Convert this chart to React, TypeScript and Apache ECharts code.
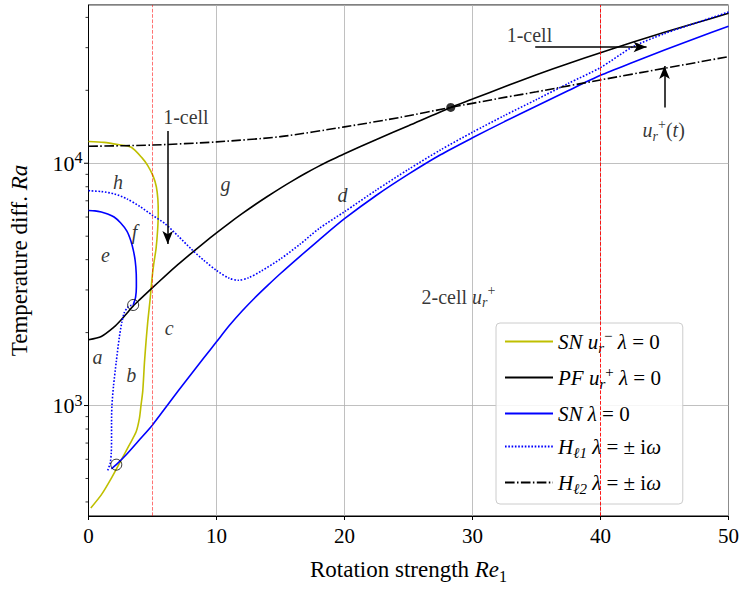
import React, { useEffect, useRef } from "react";
import * as echarts from "echarts";

const F = "Liberation Serif";

// ---------- data (Re1, Ra) ----------
const snMinusCurve: [number, number][] = [
  [0.18, 378], [1.01, 429], [1.79, 502], [2.56, 597], [3.2, 689], [3.73, 781],
  [3.98, 887], [4.1, 1000], [4.24, 1150], [4.37, 1500], [4.5, 1850], [4.63, 2220],
  [4.8, 2700], [4.95, 3300], [5.1, 3850], [5.28, 4450], [5.4, 5300], [5.45, 6200],
  [5.42, 7100], [5.3, 8000], [5.05, 8850], [4.63, 9780], [4.2, 10500], [3.34, 11640],
  [2.3, 11950], [1.2, 12200], [0, 12300],
];

const pfPlusCurve: [number, number][] = [
  [0, 1870], [1, 1928], [2, 2110], [2.5, 2244], [3, 2405], [3.5, 2579], [4, 2735],
  [4.5, 2897], [5, 3067], [6, 3430], [7, 3822], [8, 4238], [9, 4686], [10, 5161],
  [11, 5664], [12, 6191], [13, 6740], [14, 7307], [15, 7898], [16, 8502], [17, 9114],
  [18, 9729], [19, 10337], [20, 10952], [22.5, 12542], [25, 14295], [28.3, 17000],
  [30, 18400], [32.5, 20700], [35, 23200], [37.5, 25800], [40, 28600], [42.5, 31600],
  [45, 34700], [47.5, 38000], [50, 41600],
];

const snUpperBranch: [number, number][] = [
  [0, 6380], [0.5, 6360], [1, 6290], [1.5, 6170], [2, 6000], [2.5, 5680], [3, 5250],
  [3.3, 4800], [3.5, 4380], [3.65, 3950], [3.73, 3500], [3.74, 3100], [3.68, 2800],
  [3.49, 2600],
];

const snLowerBranch: [number, number][] = [
  [1.79, 548], [2.17, 570], [3, 631], [4, 724], [5, 832], [6, 977], [7, 1148],
  [8, 1343], [9, 1570], [10, 1832], [11, 2138], [12, 2455], [13, 2786], [14, 3133],
  [15, 3508], [16.5, 4121], [18, 4819], [20, 5902], [22.5, 7379], [25, 9016],
  [27.5, 10839], [30, 12735], [32.5, 14859], [35, 17219], [37.5, 19953], [40, 23067],
  [42.5, 26061], [45, 29309], [47.5, 32885], [50, 36813],
];

const hopf1UpperBranch: [number, number][] = [
  [0, 7709], [1, 7640], [2, 7480], [3, 7130], [4, 6640], [5, 6100], [6, 5620],
  [7, 5010], [8, 4440], [9, 3980], [10, 3610], [11, 3350], [11.7, 3290], [12.5, 3365],
  [13.5, 3590], [15, 4030], [16.5, 4620], [18, 5370], [20, 6310], [22.5, 7760],
  [25, 9440], [27.5, 11350], [30, 13430], [32.5, 15740], [35, 18320], [37.5, 21380],
  [40, 24830], [42.5, 30200], [45, 34280], [47.5, 38020], [50, 42070],
];

const hopf1LowerBranch: [number, number][] = [
  [1.5, 540], [1.7, 580], [1.78, 640], [1.8, 720], [1.8, 850], [1.83, 1000],
  [1.95, 1200], [2.17, 1517], [2.4, 1900], [2.6, 2200], [2.8, 2420], [3.05, 2540],
  [3.3, 2590], [3.49, 2600],
];

const hopf2Curve: [number, number][] = [
  [0, 11750], [5, 11890], [10, 12250], [15, 12880], [20, 14130], [24.3, 15450],
  [28.3, 17000], [32.5, 18700], [35, 19720], [40, 22080], [45, 24660], [50, 27540],
];

const openPoints: [number, number][] = [[3.49, 2600], [2.17, 570]];
const filledPoints: [number, number][] = [[28.3, 17000]];
const refLinesX = [5, 40];

const yMajorTicks = [1000, 10000];
const yMinorTicks = [
  400, 500, 600, 700, 800, 900,
  2000, 3000, 4000, 5000, 6000, 7000, 8000, 9000,
  20000, 30000, 40000,
];

const annotations: [number, number, string][] = [
  [7.61, 15460, "{rm|1-cell}"],
  [34.45, 33900, "{rm|1-cell}"],
  [44.94, 13700, "{it|u}{sub|r}{sup|+}{rm|(}{it|t}{rm|)}"],
  [2.3, 8400, "{it|h}"],
  [10.71, 8220, "{it|g}"],
  [19.85, 7410, "{it|d}"],
  [1.32, 4200, "{it|e}"],
  [3.59, 5200, "{it|f}"],
  [0.7, 1582, "{it|a}"],
  [3.34, 1334, "{it|b}"],
  [6.31, 2094, "{it|c}"],
  [28.9, 2818, "{rm|2-cell }{it|u}{sub|r}{sup|+}"],
];

const arrows: [[number, number], [number, number]][] = [
  [[6.19, 13600], [6.19, 4645]],
  [[34.9, 30200], [43.6, 30200]],
  [[45.0, 17000], [45.0, 25200]],
];

const legendKeys = ["snMinus", "pfPlus", "sn", "hopf1", "hopf2"];
const legendLabels = [
  "{it|SN}{rm| }{it|u}{sub|r}{sup|−}{rm| }{it|λ}{rm| = 0}",
  "{it|PF}{rm| }{it|u}{sub|r}{sup|+}{rm| }{it|λ}{rm| = 0}",
  "{it|SN}{rm| }{it|λ}{rm| = 0}{sup| }",
  "{it|H}{sub|ℓ1}{rm| }{it|λ}{rm| = ± i}{it|ω}{sup| }",
  "{it|H}{sub|ℓ2}{rm| }{it|λ}{rm| = ± i}{it|ω}{sup| }",
];

function rich(fs: number) {
  const s = Math.round(fs * 0.7);
  const lh = Math.round(fs * 1.3);
  return {
    rm: { fontFamily: F, fontSize: fs, lineHeight: lh, color: "#000" },
    it: { fontFamily: F, fontSize: fs, lineHeight: lh, fontStyle: "italic", color: "#000" },
    sup: { fontFamily: F, fontSize: s, lineHeight: s, verticalAlign: "top", color: "#000" },
    sub: { fontFamily: F, fontSize: s, lineHeight: s, verticalAlign: "bottom", fontStyle: "italic", color: "#000" },
    subn: { fontFamily: F, fontSize: s, lineHeight: s, verticalAlign: "bottom", color: "#000" },
  };
}

function isPow10(v: number) {
  const l = Math.log10(v);
  return Math.abs(l - Math.round(l)) < 1e-6;
}

export default function App() {
  const ref = useRef<HTMLDivElement>(null);
  useEffect(() => {
    document.body.style.margin = "0";
    const chart = echarts.init(ref.current!, null, { renderer: "svg" });
    const line = (name: string, data: [number, number][], color: string, type: any) => ({
      type: "line",
      name,
      data,
      symbol: "none",
      showSymbol: false,
      smooth: 0.25,
      lineStyle: { color, width: 1.6, type },
      itemStyle: { color },
      emphasis: { disabled: true },
      z: 3,
    });
    const dashDot = [9.6, 2.4, 1.5, 2.4];
    const dotted = [1.6, 1.7];
    const option: any = {
      animation: false,
      textStyle: { fontFamily: F },
      grid: { left: 87, right: 11, top: 5, bottom: 71, show: true, borderColor: "#000", borderWidth: 1 },
      xAxis: {
        type: "value",
        min: 0,
        max: 50,
        interval: 10,
        name: "{rm|Rotation strength }{it|Re}{subn|1}",
        nameLocation: "middle",
        nameGap: 38,
        nameTextStyle: { rich: rich(23) },
        axisLine: { lineStyle: { color: "#000", width: 1 } },
        axisTick: { show: true, inside: false, length: 4, lineStyle: { color: "#000" } },
        axisLabel: { fontSize: 21, color: "#000", margin: 9, fontFamily: F },
        splitLine: { show: true, lineStyle: { color: "#b0b0b0", width: 0.8 } },
      },
      yAxis: {
        type: "log",
        logBase: 10,
        min: 350,
        max: 45000,
        name: "{rm|Temperature diff. }{it|Ra}",
        nameLocation: "middle",
        nameGap: 54,
        nameRotate: 90,
        nameTextStyle: { rich: rich(23) },
        axisLine: { show: true, lineStyle: { color: "#000", width: 1 } },
        axisTick: { show: false },
        axisLabel: {
          margin: 6,
          formatter: (v: number) => (isPow10(v) ? `{b|10}{e|${Math.round(Math.log10(v))}}` : ""),
          rich: {
            b: { fontFamily: F, fontSize: 22, lineHeight: 27, color: "#000" },
            e: { fontFamily: F, fontSize: 16, lineHeight: 16, verticalAlign: "top", color: "#000" },
          },
        },
        splitLine: { show: true, lineStyle: { color: "#b0b0b0", width: 0.8 } },
      },
      legend: {
        data: legendKeys,
        orient: "vertical",
        left: 496,
        top: 323,
        padding: [5, 18, 8, 8],
        itemWidth: 48,
        itemHeight: 26,
        itemGap: 9,
        backgroundColor: "rgba(255,255,255,0.85)",
        borderColor: "#cccccc",
        borderWidth: 1,
        borderRadius: 4,
        selectedMode: false,
        itemStyle: { opacity: 0, color: "rgba(0,0,0,0)", borderWidth: 0 },
        formatter: (name: string) => legendLabels[legendKeys.indexOf(name)],
        textStyle: { rich: rich(21) },
      },
      series: [
        line("snMinus", snMinusCurve, "#bfbf00", "solid"),
        line("pfPlus", pfPlusCurve, "#000000", "solid"),
        line("sn", snUpperBranch, "#0000ff", "solid"),
        line("sn", snLowerBranch, "#0000ff", "solid"),
        line("hopf1", hopf1UpperBranch, "#0000ff", dotted),
        line("hopf1", hopf1LowerBranch, "#0000ff", dotted),
        line("hopf2", hopf2Curve, "#000000", dashDot),
        {
          type: "scatter",
          name: "refLines",
          data: [],
          markLine: {
            silent: true,
            symbol: ["none", "none"],
            label: { show: false },
            data: refLinesX.map((x, i) => ({
              xAxis: x,
              lineStyle: { color: i === 0 ? "rgba(255,0,0,0.55)" : "rgba(255,0,0,0.9)", width: 1, type: [3.7, 1.6] },
            })),
          },
          z: 2,
        },
        {
          type: "scatter",
          name: "openPts",
          data: openPoints,
          symbol: "circle",
          symbolSize: 11,
          itemStyle: { color: "rgba(0,0,0,0)", borderColor: "#000", borderWidth: 1 },
          z: 4,
        },
        {
          type: "scatter",
          name: "filledPts",
          data: filledPoints,
          symbol: "circle",
          symbolSize: 9,
          itemStyle: { color: "#000" },
          z: 4,
        },
        {
          type: "scatter",
          name: "annot",
          data: annotations.map(([x, y, t]) => ({ value: [x, y], name: t })),
          symbolSize: 1,
          itemStyle: { color: "rgba(0,0,0,0)" },
          label: { show: true, position: "inside", formatter: (p: any) => p.name, rich: rich(20) },
          markLine: {
            silent: true,
            label: { show: false },
            lineStyle: { color: "#000", width: 1.5, type: "solid" },
            data: arrows.map(([a, b]) => [
              { coord: a, symbol: "none" },
              { coord: b, symbol: "arrow", symbolSize: [8, 13] },
            ]),
          },
          z: 5,
        },
        {
          type: "custom",
          name: "yticks",
          clip: false,
          silent: true,
          data: [...yMajorTicks.map((v) => [0, v, 1]), ...yMinorTicks.map((v) => [0, v, 0])],
          renderItem: (params: any, api: any) => {
            const major = api.value(2) === 1;
            const p = api.coord([0, api.value(1)]);
            const len = major ? 4.5 : 3;
            return {
              type: "line",
              shape: { x1: p[0] - len, y1: p[1], x2: p[0], y2: p[1] },
              style: { stroke: "#000", lineWidth: major ? 1 : 0.8 },
            };
          },
          z: 6,
        },
      ],
    };
    chart.setOption(option);
    return () => chart.dispose();
  }, []);
  return <div ref={ref} style={{ width: 742, height: 589 }} />;
}
